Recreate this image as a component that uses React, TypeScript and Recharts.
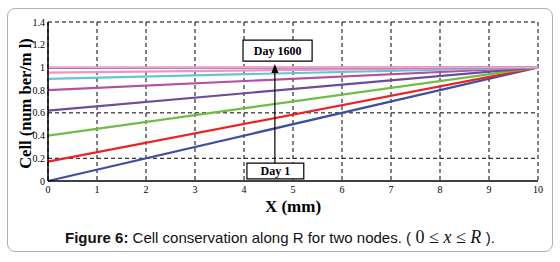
import {
  LineChart,
  Line,
  XAxis,
  YAxis,
  CartesianGrid,
  ReferenceArea,
  ReferenceLine,
} from "recharts";

// x positions (mm) where the profiles were read
const xs = [0, 10];

// cell density profiles, from Day 1 (bottom) up to Day 1600 (top)
const profile1 = [0, 1];
const profile2 = [0.17, 1];
const profile3 = [0.4, 1];
const profile4 = [0.62, 1];
const profile5 = [0.8, 1];
const profile6 = [0.9, 1];
const profile7 = [0.955, 1];
const profile8 = [0.995, 1];
const profile9 = [1.0, 1];

const xTicks = [0, 1, 2, 3, 4, 5, 6, 7, 8, 9, 10];
const yTicks = [0, 0.2, 0.4, 0.6, 0.8, 1, 1.2, 1.4];

const series = [
  { key: "p1", values: profile1, color: "#3c50a2" },
  { key: "p2", values: profile2, color: "#ec2227" },
  { key: "p3", values: profile3, color: "#6fbd44" },
  { key: "p4", values: profile4, color: "#6a4c9c" },
  { key: "p5", values: profile5, color: "#b3509f" },
  { key: "p6", values: profile6, color: "#62c6d7" },
  { key: "p7", values: profile7, color: "#f293c2" },
  { key: "p8", values: profile8, color: "#3e4d9f" },
  { key: "p9", values: profile9, color: "#f5a3cb" },
];

const data = xs.map((x, i) => {
  const row: Record<string, number> = { x };
  series.forEach((s) => {
    row[s.key] = s.values[i];
  });
  return row;
});

const serif = "'Liberation Serif', 'Times New Roman', serif";

const Arrow = (props: any) => {
  const { x1, y1, x2, y2 } = props;
  const tipY = Math.min(y1, y2);
  const baseY = Math.max(y1, y2);
  return (
    <g>
      <line x1={x1} y1={baseY} x2={x2} y2={tipY + 6} stroke="#000" strokeWidth={1.2} />
      <polygon
        points={`${x1},${tipY} ${x1 - 3.5},${tipY + 9} ${x1 + 3.5},${tipY + 9}`}
        fill="#000"
      />
    </g>
  );
};

const App = () => {
  return (
    <div style={{ position: "absolute", left: 0, top: 0, width: 560, height: 262, background: "#fff" }}>
      <div
        style={{
          position: "absolute",
          left: 7,
          top: 8,
          width: 544,
          height: 242,
          border: "1.5px solid #b0b0b0",
          borderRadius: 8,
        }}
      />
      <LineChart
        width={560}
        height={262}
        data={data}
        margin={{ top: 22, right: 22, bottom: 51, left: 0 }}
        style={{ position: "absolute", left: 0, top: 0 }}
      >
        <CartesianGrid stroke="#000" strokeDasharray="4 3" strokeWidth={1} verticalValues={xTicks} horizontalValues={yTicks} />
        <XAxis
          type="number"
          dataKey="x"
          domain={[0, 10]}
          ticks={xTicks}
          height={30}
          tickSize={0}
          tickMargin={5}
          axisLine={{ stroke: "#000", strokeWidth: 1.5 }}
          tick={{ fontSize: 10, fill: "#000", fontFamily: serif }}
          label={{
            content: (p: any) => {
              const vb = p.viewBox;
              return (
                <text
                  x={vb.x + vb.width / 2}
                  y={vb.y + 31}
                  textAnchor="middle"
                  fontFamily={serif}
                  fontWeight="bold"
                  fontSize={17}
                  fill="#000"
                >
                  X (mm)
                </text>
              );
            },
          }}
        />
        <XAxis xAxisId="top" orientation="top" type="number" dataKey="x" domain={[0, 10]} height={0} tick={false} tickLine={false} axisLine={{ stroke: "#000", strokeWidth: 1.5 }} />
        <YAxis
          type="number"
          domain={[0, 1.4]}
          ticks={yTicks}
          width={48}
          tickSize={0}
          tickMargin={3}
          axisLine={{ stroke: "#000", strokeWidth: 1.5 }}
          tick={{ fontSize: 10, fill: "#000", fontFamily: serif }}
          label={{
            content: (p: any) => {
              const vb = p.viewBox;
              const cx = vb.x + 25;
              const cy = vb.y + vb.height / 2 + 2;
              return (
                <text
                  x={cx}
                  y={cy}
                  textAnchor="middle"
                  dominantBaseline="central"
                  transform={`rotate(-90, ${cx}, ${cy})`}
                  fontFamily={serif}
                  fontWeight="bold"
                  fontSize={16.5}
                  fill="#000"
                >
                  Cell (num ber/m l)
                </text>
              );
            },
          }}
        />
        <YAxis yAxisId="right" orientation="right" domain={[0, 1.4]} width={0} tick={false} tickLine={false} axisLine={{ stroke: "#000", strokeWidth: 1.5 }} />
        {series.map((s) => (
          <Line
            key={s.key}
            dataKey={s.key}
            stroke={s.color}
            strokeWidth={2.2}
            dot={false}
            activeDot={false}
            isAnimationActive={false}
          />
        ))}
        <ReferenceArea
          x1={3.98}
          x2={5.39}
          y1={1.056}
          y2={1.24}
          fill="#fff"
          fillOpacity={1}
          stroke="#000"
          strokeWidth={1.2}
          label={{ value: "Day 1600", position: "center", fontFamily: serif, fontSize: 12, fontWeight: "bold", fill: "#000" }}
        />
        <ReferenceArea
          x1={4.06}
          x2={5.22}
          y1={0.018}
          y2={0.158}
          fill="#fff"
          fillOpacity={1}
          stroke="#000"
          strokeWidth={1.2}
          label={{ value: "Day 1", position: "center", fontFamily: serif, fontSize: 12, fontWeight: "bold", fill: "#000" }}
        />
        <ReferenceLine
          segment={[
            { x: 4.63, y: 0.158 },
            { x: 4.63, y: 1.03 },
          ]}
          stroke="#000"
          shape={Arrow}
        />
      </LineChart>
      <div
        style={{
          position: "absolute",
          left: 0,
          width: 560,
          top: 227,
          textAlign: "center",
          fontFamily: "'Liberation Sans', Arial, sans-serif",
          fontSize: 15,
          color: "#111",
          whiteSpace: "nowrap",
        }}
      >
        <b>Figure 6:</b> Cell conservation along R for two nodes. (
        <span style={{ fontFamily: serif, fontStyle: "italic", fontSize: 18 }}>
          {"  "}
          <span style={{ fontStyle: "normal" }}>0</span> ≤ x ≤ R{"  "}
        </span>
        ).
      </div>
    </div>
  );
};

export default App;
